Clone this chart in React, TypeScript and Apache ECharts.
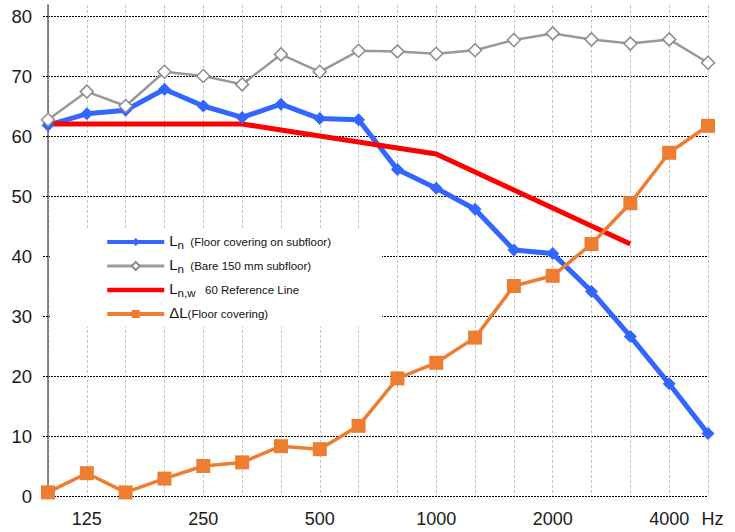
import React, { useEffect, useRef } from "react";
import * as echarts from "echarts";

const categories = ["100", "125", "160", "200", "250", "315", "400", "500", "630", "800", "1000", "1250", "1600", "2000", "2500", "3150", "4000", "5000"];
const tickLabels = ["", "125", "", "", "250", "", "", "500", "", "", "1000", "", "", "2000", "", "", "4000", "Hz"];

const lnFloor = [61.8, 63.7, 64.3, 67.8, 65.0, 63.1, 65.3, 62.9, 62.7, 54.4, 51.3, 47.8, 41.0, 40.4, 34.1, 26.6, 18.7, 10.4];
const lnBare = [62.7, 67.4, 65.0, 70.7, 70.0, 68.6, 73.6, 70.7, 74.2, 74.1, 73.7, 74.3, 76.0, 77.1, 76.1, 75.4, 76.1, 72.2];
const refLine = [62, 62, 62, 62, 62, 62, 61, 60, 59, 58, 57, 54, 51, 48, 45, 42, null, null];
const deltaL = [0.6, 3.8, 0.6, 2.9, 5.0, 5.6, 8.3, 7.8, 11.7, 19.6, 22.2, 26.4, 35.0, 36.7, 42.0, 48.8, 57.2, 61.7];

const yTicks = { min: 0, max: 80, interval: 10 };

const names = {
  floor: "Ln (Floor covering on subfloor)",
  bare: "Ln (Bare 150 mm subfloor)",
  ref: "Ln,w 60 Reference Line",
  delta: "ΔL (Floor covering)",
};

const legendRich: Record<string, string> = {
  [names.floor]: "{L|L}{sub|n}{txt|  (Floor covering on subfloor)}",
  [names.bare]: "{L|L}{sub|n}{txt|  (Bare 150 mm subfloor)}",
  [names.ref]: "{L|L}{sub|n,w}{txt|   60 Reference Line}",
  [names.delta]: "{L|ΔL}{txt|(Floor covering)}",
};

const SANS = "'Liberation Sans', Arial, sans-serif";

export default function App() {
  const ref = useRef<HTMLDivElement>(null);
  useEffect(() => {
    if (!ref.current) return;
    const chart = echarts.init(ref.current, null, { renderer: "svg" });
    chart.setOption({
      animation: false,
      backgroundColor: "#fff",
      grid: [
        { left: 48, right: 27, top: 16, bottom: 36 },
        { left: 48, right: 27, top: 5, bottom: 36 },
      ],
      xAxis: [
        {
          type: "category",
          gridIndex: 0,
          data: categories,
          boundaryGap: false,
          axisLine: { show: false },
          axisTick: { show: false },
          splitLine: { show: false },
          axisLabel: {
            interval: 0,
            margin: 14,
            fontSize: 18,
            fontFamily: SANS,
            color: "#1a1a1a",
            formatter: (_v: string, i: number) =>
              tickLabels[i] === "Hz" ? "{hz|Hz}" : tickLabels[i],
            rich: {
              hz: { fontSize: 18, fontFamily: SANS, color: "#1a1a1a", padding: [0, 0, 0, 9] },
            },
          },
        },
        {
          type: "category",
          gridIndex: 1,
          data: categories,
          boundaryGap: false,
          axisLine: { show: false },
          axisTick: { show: false },
          axisLabel: { show: false },
          splitLine: {
            show: true,
            interval: 0,
            lineStyle: { color: "#c4c4c4", type: [3, 2], width: 1 },
          },
        },
      ],
      yAxis: [
        {
          type: "value",
          gridIndex: 0,
          min: yTicks.min,
          max: yTicks.max,
          interval: yTicks.interval,
          axisLine: { show: false },
          axisTick: {
            show: true,
            length: 5,
            lineStyle: { color: "#000", type: [2, 1], width: 1 },
          },
          axisLabel: {
            margin: 16,
            fontSize: 18.5,
            fontFamily: SANS,
            color: "#1a1a1a",
          },
          splitLine: {
            show: true,
            lineStyle: { color: "#000", type: [2, 1], width: 1 },
          },
        },
        {
          type: "value",
          gridIndex: 1,
          min: 0,
          max: 1,
          axisLine: {
            show: true,
            lineStyle: { color: "#555", type: [2, 1], width: 1.5 },
          },
          axisTick: { show: false },
          axisLabel: { show: false },
          splitLine: { show: false },
        },
      ],
      graphic: [
        {
          type: "rect",
          z: 1,
          shape: { x: 50, y: 228, width: 332, height: 99 },
          style: { fill: "#fff" },
        },
      ],
      legend: {
        orient: "vertical",
        left: 105,
        top: 233,
        padding: 0,
        itemGap: 6,
        itemWidth: 57,
        itemHeight: 10,
        selectedMode: false,
        data: [
          { name: names.floor, lineStyle: { width: 4 } },
          { name: names.bare, lineStyle: { width: 3 } },
          { name: names.ref, lineStyle: { width: 4.5 }, itemStyle: { opacity: 0 } },
          { name: names.delta, lineStyle: { width: 4 } },
        ],
        formatter: (name: string) => legendRich[name],
        textStyle: {
          rich: {
            L: { fontSize: 15, lineHeight: 18, fontFamily: SANS, color: "#111", verticalAlign: "top" },
            sub: { fontSize: 11.5, lineHeight: 12, padding: [6, 0, 0, 0], fontFamily: SANS, color: "#111", verticalAlign: "top" },
            txt: { fontSize: 11.5, lineHeight: 12, padding: [3, 0, 0, 0], fontFamily: SANS, color: "#111", verticalAlign: "top" },
          },
        },
      },
      series: [
        {
          name: names.floor,
          type: "line",
          xAxisIndex: 0,
          yAxisIndex: 0,
          data: lnFloor,
          symbol: "diamond",
          symbolSize: 13,
          lineStyle: { color: "#3366ff", width: 5 },
          itemStyle: { color: "#3366ff" },
        },
        {
          name: names.bare,
          type: "line",
          xAxisIndex: 0,
          yAxisIndex: 0,
          data: lnBare,
          symbol: "diamond",
          symbolSize: 13,
          lineStyle: { color: "#999999", width: 2.5 },
          itemStyle: { color: "#ffffff", borderColor: "#8c8c8c", borderWidth: 1.5 },
        },
        {
          name: names.ref,
          type: "line",
          xAxisIndex: 0,
          yAxisIndex: 0,
          data: refLine,
          symbol: "none",
          lineStyle: { color: "#ff0000", width: 5 },
          itemStyle: { color: "#ff0000" },
        },
        {
          name: names.delta,
          type: "line",
          xAxisIndex: 0,
          yAxisIndex: 0,
          data: deltaL,
          symbol: "rect",
          symbolSize: 14,
          lineStyle: { color: "#ed7d31", width: 3.5 },
          itemStyle: { color: "#ed7d31" },
        },
      ],
    });
    return () => chart.dispose();
  }, []);
  return <div ref={ref} style={{ width: 735, height: 532, position: "absolute", left: 0, top: 0 }} />;
}
